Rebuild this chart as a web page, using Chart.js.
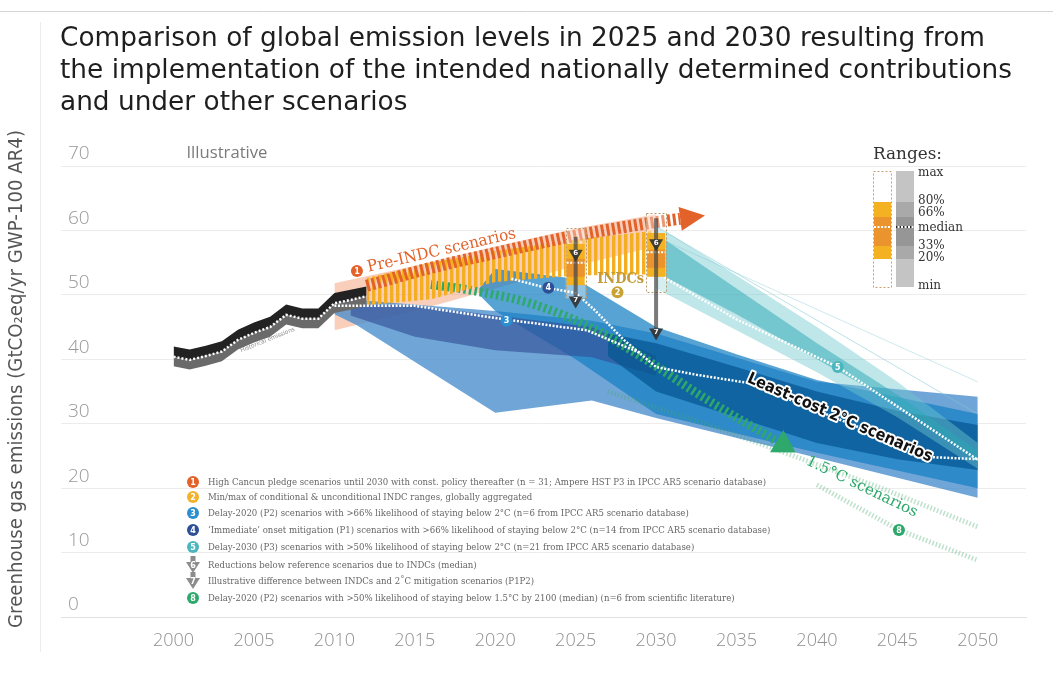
<!DOCTYPE html>
<html>
<head>
<meta charset="utf-8">
<title>Global emission levels in 2025 and 2030</title>
<script src="https://cdn.jsdelivr.net/npm/chart.js@4.4.1/dist/chart.umd.min.js"></script>
<style>
  html, body { margin: 0; padding: 0; background: #fff; overflow: hidden; }
  canvas { display: block; }
</style>
</head>
<body>
<canvas id="chart" width="1053" height="673"></canvas>
<script>
// AXES
const yearTicks = [2000, 2005, 2010, 2015, 2020, 2025, 2030, 2035, 2040, 2045, 2050];
const valueTicks = [0, 10, 20, 30, 40, 50, 60, 70];

// HISTORICAL EMISSIONS (GtCO2eq/yr)
const histYears = [2000, 2001, 2002, 2003, 2004, 2005, 2006, 2007, 2008, 2009, 2010, 2011, 2012];
const histValues = [40.4, 39.9, 40.5, 41.2, 43.0, 44.1, 45.0, 46.9, 46.3, 46.3, 48.7, 49.2, 49.8];
const histHigh = [42.0, 41.5, 42.1, 42.8, 44.6, 45.7, 46.6, 48.5, 47.9, 47.9, 50.3, 50.8, 51.3];
const histLow = [38.9, 38.4, 39.0, 39.7, 41.5, 42.6, 43.5, 45.4, 44.8, 44.8, 47.2, 47.7, 48.3];

// 1 PRE-INDC SCENARIOS
const preRangeYears = [2010, 2015, 2020, 2025, 2030];
const preRangeLow = [44.5, 47.5, 51.0, 54.5, 57.5];
const preRangeHigh = [51.8, 54.5, 57.5, 60.3, 62.5];
const preMedianYears = [2012, 2016, 2020, 2025, 2030, 2031.5];
const preMedianValues = [51.4, 54.2, 56.5, 59.2, 61.3, 61.8];

// 2 INDC RANGES
const indcSpreadYears = [2012, 2016, 2020, 2025, 2030];
const indcSpreadLow = [48.4, 49.3, 52.0, 53.0, 53.2];
const indcSpreadHigh = [52.6, 55.0, 56.8, 58.6, 60.0];
const indcYears = [2025, 2030];
const indcMin = [49.5, 50.4];
const indcP20 = [51.5, 52.8];
const indcP33 = [52.8, 54.2];
const indcMedian = [55.0, 56.6];
const indcP66 = [55.6, 57.0];
const indcP80 = [57.9, 59.6];
const indcMax = [60.4, 62.7];
const indcReference = [59.0, 61.9];   // 6: pre-INDC level above the INDC box
const indcGapTarget = [47.9, 42.9];   // 7: 2°C mitigation level below it

// 3 DELAY-2020 (P2), >66% BELOW 2°C
const p2Years = [2010, 2011.4, 2020, 2026, 2030, 2040, 2050];
const p2Low = [47.0, 45.3, 31.7, 33.6, 30.9, 24.7, 18.5];
const p2High = [49.2, 49.2, 47.5, 46.0, 44.0, 36.5, 34.2];
const p2CoreYears = [2011, 2015, 2020, 2026, 2030];
const p2CoreLow = [46.8, 43.5, 41.4, 40.3, 37.5];
const p2CoreHigh = [48.6, 48.3, 46.8, 45.0, 40.5];
const p2MedianYears = [2010, 2015, 2020, 2025.7, 2029];
const p2MedianValues = [48.3, 48.3, 46.4, 44.5, 41.0];

// 4 IMMEDIATE ONSET (P1), >66% BELOW 2°C
const p1Years = [2019, 2020, 2025, 2030, 2035, 2040, 2050];
const p1Low = [50.0, 47.5, 40.0, 31.5, 28.5, 25.5, 20.0];
const p1High = [51.0, 54.0, 52.5, 45.0, 40.8, 36.8, 31.5];
const coreYears = [2027, 2030, 2035, 2040, 2045, 2050];
const coreLow = [40.5, 35.0, 31.0, 27.0, 24.5, 22.8];
const coreHigh = [44.0, 42.5, 38.8, 35.0, 32.0, 29.8];
const p1MedianYears = [2021, 2023, 2025, 2026.2, 2028, 2030, 2032.5, 2035.8, 2047.2, 2050];
const p1MedianValues = [52.5, 51.2, 50.3, 47.6, 43.0, 38.8, 37.6, 36.3, 24.8, 24.5];

// 5 DELAY-2030 (P3), >50% BELOW 2°C
const p3Years = [2030, 2035, 2040, 2045, 2050];
const p3Low = [51.0, 44.5, 38.0, 31.0, 23.0];
const p3High = [60.8, 53.0, 45.0, 36.5, 27.0];
const p3CoreLow = [53.5, 47.0, 40.0, 33.0, 24.0];
const p3CoreHigh = [59.5, 51.0, 42.5, 34.5, 25.8];
const p3MedianYears = [2030.5, 2035, 2041.3, 2050];
const p3MedianValues = [52.7, 46.2, 38.8, 24.4];
const p3EdgeYears = [2030, 2050];
const p3EdgeA = [60.6, 31.5];
const p3EdgeB = [59.0, 36.5];

// 8 DELAY-2020 (P2), >50% BELOW 1.5°C
const p15Years = [2016, 2018.3, 2022.3, 2026.3, 2029.4, 2033, 2037.5];
const p15Values = [51.6, 50.8, 48.6, 44.5, 39.9, 34.0, 27.3];
const p15UpperYears = [2027, 2033, 2038, 2044, 2050];
const p15UpperValues = [35.0, 30.0, 25.5, 20.0, 14.0];
const p15LowerYears = [2040, 2045.1, 2050];
const p15LowerValues = [20.5, 13.5, 8.8];

// TEXTS
const titleLines = [
  'Comparison of global emission levels in 2025 and 2030 resulting from',
  'the implementation of the intended nationally determined contributions',
  'and under other scenarios'
];
const yTitle = 'Greenhouse gas emissions (GtCO\u2082eq/yr GWP-100 AR4)';
const legendItems = [
  { n: '1', color: '#e2622a', text: 'High Cancun pledge scenarios until 2030 with const. policy thereafter (n = 31; Ampere HST P3 in IPCC AR5 scenario database)' },
  { n: '2', color: '#f2b22b', text: 'Min/max of conditional & unconditional INDC ranges, globally aggregated' },
  { n: '3', color: '#2b8ed0', text: 'Delay-2020 (P2) scenarios with >66% likelihood of staying below 2°C (n=6 from IPCC AR5 scenario database)' },
  { n: '4', color: '#2c4f96', text: '\u2018Immediate\u2019 onset mitigation (P1) scenarios with >66% likelihood of staying below 2°C (n=14 from IPCC AR5 scenario database)' },
  { n: '5', color: '#4bb6bd', text: 'Delay-2030 (P3) scenarios with >50% likelihood of staying below 2°C (n=21 from IPCC AR5 scenario database)' },
  { n: '6', color: null, text: 'Reductions below reference scenarios due to INDCs (median)' },
  { n: '7', color: null, text: 'Illustrative difference between INDCs and 2\u02daC mitigation scenarios (P1P2)' },
  { n: '8', color: '#2ea86b', text: 'Delay-2020 (P2) scenarios with >50% likelihood of staying below 1.5°C by 2100 (median) (n=6 from scientific literature)' }
];

// marker and label anchors, in chart units
const markers = [
  { n: '1', x: 2011.4, y: 53.7, color: '#e2622a' },
  { n: '2', x: 2027.6, y: 50.4, color: '#c9a235' },
  { n: '3', x: 2020.7, y: 46.0, color: '#2b8ed0' },
  { n: '4', x: 2023.3, y: 51.1, color: '#2c4f96' },
  { n: '5', x: 2041.3, y: 38.8, color: '#4bb6bd' },
  { n: '8', x: 2045.1, y: 13.5, color: '#2ea86b' }
];

// HELPERS
function pairs(xs, ys) {
  return xs.map((x, i) => ({ x: x, y: ys[i] }));
}

function stripes(color, period, w) {
  const c = document.createElement('canvas');
  c.width = period;
  c.height = 4;
  const g = c.getContext('2d');
  g.fillStyle = color;
  g.fillRect(0, 0, w, 4);
  return g.createPattern(c, 'repeat');
}

const datasets = [];

function addBand(years, low, high, color) {
  datasets.push({ data: pairs(years, low), borderWidth: 0, borderColor: 'rgba(0,0,0,0)', fill: false });
  datasets.push({ data: pairs(years, high), borderWidth: 0, borderColor: 'rgba(0,0,0,0)', fill: '-1', backgroundColor: color });
}

function addLine(years, values, opts) {
  datasets.push(Object.assign({ data: pairs(years, values), fill: false }, opts));
}

// back to front
addBand(preRangeYears, preRangeLow, preRangeHigh, 'rgba(241,146,104,0.45)');
addBand(p2Years, p2Low, p2High, 'rgba(76,142,205,0.8)');
addBand(p1Years, p1Low, p1High, 'rgba(22,128,196,0.72)');
addBand(p2CoreYears, p2CoreLow, p2CoreHigh, 'rgba(52,78,150,0.62)');
addBand(coreYears, coreLow, coreHigh, 'rgba(4,86,146,0.72)');
addBand(p3Years, p3Low, p3High, 'rgba(112,200,206,0.45)');
addBand(p3Years, p3CoreLow, p3CoreHigh, 'rgba(44,168,182,0.5)');
addLine(p3EdgeYears, p3EdgeA, { borderColor: 'rgba(130,200,212,0.55)', borderWidth: 1 });
addLine(p3EdgeYears, p3EdgeB, { borderColor: 'rgba(130,200,212,0.4)', borderWidth: 1 });
addLine(p15UpperYears, p15UpperValues, { borderColor: 'rgba(70,170,110,0.35)', borderWidth: 5, borderDash: [1.5, 2] });
addLine(p15LowerYears, p15LowerValues, { borderColor: 'rgba(70,170,110,0.35)', borderWidth: 5, borderDash: [1.5, 2] });
addLine(p15Years, p15Values, { borderColor: '#2ea86b', borderWidth: 9, borderDash: [2.5, 3], cubicInterpolationMode: 'monotone' });
addBand(indcSpreadYears, indcSpreadLow, indcSpreadHigh, stripes('#f3ae22', 6, 3.4));
addLine(preMedianYears, preMedianValues, { borderColor: '#e2622a', borderWidth: 12, borderDash: [3, 2.6], cubicInterpolationMode: 'monotone' });
addBand(histYears, histLow, histValues, '#6a6a6a');
datasets.push({ data: pairs(histYears, histHigh), borderWidth: 0, borderColor: 'rgba(0,0,0,0)', fill: '-1', backgroundColor: '#222222' });
addLine(histYears, histValues, { borderColor: '#ffffff', borderWidth: 2.5, borderDash: [2, 2] });
addLine(p2MedianYears, p2MedianValues, { borderColor: '#ffffff', borderWidth: 2.5, borderDash: [2, 1.6] });
addLine(p1MedianYears, p1MedianValues, { borderColor: '#ffffff', borderWidth: 2.5, borderDash: [2, 1.6] });
addLine(p3MedianYears, p3MedianValues, { borderColor: '#ffffff', borderWidth: 2.5, borderDash: [2, 1.6] });

datasets.forEach((d, i) => {
  d.order = datasets.length - i;
  d.pointRadius = 0;
});

function drawText(c, text, x, y, o) {
  c.save();
  c.font = o.font;
  c.fillStyle = o.color || '#333';
  c.textAlign = o.align || 'left';
  c.textBaseline = o.baseline || 'middle';
  let sx = o.sx || 1;
  if (o.width) sx = o.width / c.measureText(text).width;
  c.translate(x, y);
  if (o.angle) c.rotate(o.angle * Math.PI / 180);
  c.scale(sx, 1);
  if (o.halo) {
    c.lineJoin = 'round';
    c.strokeStyle = o.halo;
    c.lineWidth = o.haloWidth || 4;
    c.strokeText(text, 0, 0);
  }
  c.fillText(text, 0, 0);
  c.restore();
}

function numCircle(c, x, y, r, color, n) {
  c.beginPath();
  c.arc(x, y, r, 0, Math.PI * 2);
  c.fillStyle = color;
  c.fill();
  drawText(c, n, x, y + 0.5, { font: 'bold ' + Math.round(r * 1.4) + "px 'DejaVu Sans'", color: '#fff', align: 'center' });
}

function numTri(c, x, tipY, n, color) {
  c.beginPath();
  c.moveTo(x - 7, tipY - 12);
  c.lineTo(x + 7, tipY - 12);
  c.lineTo(x, tipY);
  c.closePath();
  c.fillStyle = color || 'rgba(50,50,50,0.9)';
  c.fill();
  drawText(c, n, x, tipY - 8, { font: "bold 7px 'DejaVu Sans'", color: '#fff', align: 'center' });
}

function arrowHead(c, x0, y0, x1, y1, color, half, len) {
  const a = Math.atan2(y1 - y0, x1 - x0);
  c.save();
  c.translate(x1, y1);
  c.rotate(a);
  c.beginPath();
  c.moveTo(0, -half);
  c.lineTo(len, 0);
  c.lineTo(0, half);
  c.closePath();
  c.fillStyle = color;
  c.fill();
  c.restore();
}

const decor = {
  id: 'decor',
  beforeDraw(chart) {
    const c = chart.ctx;
    c.save();
    c.fillStyle = '#fff';
    c.fillRect(0, 0, chart.width, chart.height);
    c.lineWidth = 1;
    c.strokeStyle = '#d4d4d4';
    c.beginPath(); c.moveTo(0, 11.5); c.lineTo(chart.width, 11.5); c.stroke();
    c.strokeStyle = '#ececec';
    c.beginPath(); c.moveTo(40.5, 22); c.lineTo(40.5, 652); c.stroke();

    // title
    c.font = "26px 'DejaVu Sans'";
    const sx = 925 / c.measureText(titleLines[0]).width;
    titleLines.forEach((t, i) => {
      drawText(c, t, 60, 46 + i * 32, { font: "26px 'DejaVu Sans'", color: '#1e1e1e', baseline: 'alphabetic', sx: sx });
    });

    // y axis title
    drawText(c, yTitle, 17, 379, { font: "19px 'DejaVu Sans'", color: '#555', align: 'center', angle: -90, width: 498 });
    c.restore();
  },
  afterDatasetsDraw(chart) {
    const c = chart.ctx;
    const xs = chart.scales.x, ys = chart.scales.y;
    const X = v => xs.getPixelForValue(v);
    const Y = v => ys.getPixelForValue(v);
    c.save();

    // arrow heads of the hatched paths
    const pn = preMedianYears.length;
    arrowHead(c, X(preMedianYears[pn - 2]), Y(preMedianValues[pn - 2]), X(preMedianYears[pn - 1]), Y(preMedianValues[pn - 1]), '#e2622a', 12, 25);
    const gn = p15Years.length;
    arrowHead(c, X(p15Years[gn - 2]), Y(p15Values[gn - 2]), X(p15Years[gn - 1]), Y(p15Values[gn - 1]), '#2ea86b', 13, 22);

    // INDC range boxes
    indcYears.forEach((yr, i) => {
      const x = X(yr);
      const top = Y(indcMax[i]), bot = Y(indcMin[i]);
      c.fillStyle = 'rgba(255,255,255,0.35)';
      c.fillRect(x - 10, top, 20, bot - top);
      c.setLineDash([2, 2]);
      c.strokeStyle = '#b89a6e';
      c.lineWidth = 1;
      c.strokeRect(Math.round(x - 10) + 0.5, Math.round(top) + 0.5, 20, Math.round(bot - top));
      c.setLineDash([]);
      c.fillStyle = '#f4b223';
      c.fillRect(x - 9, Y(indcP80[i]), 18, Y(indcP20[i]) - Y(indcP80[i]));
      c.fillStyle = '#eb932c';
      c.fillRect(x - 9, Y(indcP66[i]), 18, Y(indcP33[i]) - Y(indcP66[i]));
      c.strokeStyle = '#fff';
      c.lineWidth = 2;
      c.setLineDash([2, 1.5]);
      c.beginPath(); c.moveTo(x - 9, Y(indcMedian[i])); c.lineTo(x + 9, Y(indcMedian[i])); c.stroke();
      c.setLineDash([]);
    });

    // 6 / 7 arrows
    indcYears.forEach((yr, i) => {
      const x = X(yr);
      c.strokeStyle = 'rgba(70,70,70,0.72)';
      c.lineWidth = 4;
      c.beginPath(); c.moveTo(x, Y(indcReference[i])); c.lineTo(x, Y(indcGapTarget[i]) - 8); c.stroke();
      numTri(c, x, Y(indcMedian[i]) - 1, '6');
      numTri(c, x, Y(indcGapTarget[i]), '7');
    });

    // numbered markers
    markers.forEach(m => numCircle(c, X(m.x), Y(m.y), 6, m.color, m.n));

    // labels on the chart
    drawText(c, 'Illustrative', X(2000.8), Y(71.9), { font: "16px 'Open Sans'", color: '#7a7a7a', width: 81 });
    drawText(c, 'Historical emissions', X(2005.85), Y(43.0), { font: "6px 'DejaVu Sans'", color: '#8a8a8a', align: 'center', angle: -22, width: 58 });
    drawText(c, 'Pre-INDC scenarios', X(2012.06), Y(54.2), { font: "16px 'DejaVu Serif'", color: '#e2622a', angle: -13, width: 152 });
    drawText(c, 'INDCs', X(2027.8), Y(52.5), { font: "bold 15px 'DejaVu Serif'", color: '#c49a38', align: 'center', width: 47 });
    drawText(c, 'Least-cost 2\u00b0C scenarios', X(2041.42), Y(30.9), { font: "bold 16px 'DejaVu Sans'", color: '#111', align: 'center', angle: 23.5, width: 200, halo: '#fff', haloWidth: 4 });
    drawText(c, '1.5\u00b0C scenarios', X(2042.79), Y(20.2), { font: "15px 'DejaVu Serif'", color: '#2ea86b', align: 'center', angle: 25.7, width: 122 });

    // legend
    c.font = "10px 'DejaVu Serif'";
    const lsx = 558 / c.measureText(legendItems[0].text).width;
    const legendY = [482, 497, 513, 530, 547, 565, 581, 598];
    legendItems.forEach((it, i) => {
      const y = legendY[i];
      if (it.color) {
        numCircle(c, 193, y, 6, it.color, it.n);
      } else {
        c.fillStyle = '#8c8c8c';
        c.fillRect(190.5, y - 9, 5, 6);
        c.beginPath();
        c.moveTo(186, y - 3); c.lineTo(200, y - 3); c.lineTo(193, y + 8); c.closePath();
        c.fill();
        drawText(c, it.n, 193, y + 0.5, { font: "bold 8px 'DejaVu Sans'", color: '#fff', align: 'center' });
      }
      drawText(c, it.text, 208, y, { font: "10px 'DejaVu Serif'", color: '#666', sx: lsx });
    });

    // ranges key
    drawText(c, 'Ranges:', 873, 155, { font: "16px 'DejaVu Serif'", color: '#333', width: 69 });
    c.setLineDash([2, 2]);
    c.strokeStyle = '#c9a06e';
    c.lineWidth = 1;
    c.strokeRect(873.5, 171.5, 18, 116);
    c.setLineDash([]);
    c.fillStyle = '#f4b223'; c.fillRect(874, 202, 17, 57);
    c.fillStyle = '#eb932c'; c.fillRect(874, 217, 17, 29);
    c.fillStyle = '#c4c4c4'; c.fillRect(896, 171, 18, 116);
    c.fillStyle = '#a9a9a9'; c.fillRect(896, 202, 18, 57);
    c.fillStyle = '#969696'; c.fillRect(896, 217, 18, 29);
    c.lineWidth = 2;
    c.setLineDash([2, 1.5]);
    c.strokeStyle = '#fff';
    c.beginPath(); c.moveTo(874, 227); c.lineTo(891, 227); c.stroke();
    c.strokeStyle = '#222';
    c.beginPath(); c.moveTo(896, 227); c.lineTo(914, 227); c.stroke();
    c.strokeStyle = '#fff';
    c.lineDashOffset = 2;
    c.beginPath(); c.moveTo(896, 227); c.lineTo(914, 227); c.stroke();
    c.setLineDash([]);
    const rangeLabels = [['max', 173], ['80%', 201], ['66%', 213], ['median', 228], ['33%', 246], ['20%', 258], ['min', 286]];
    rangeLabels.forEach(r => drawText(c, r[0], 918, r[1], { font: "12px 'DejaVu Serif'", color: '#333' }));

    c.restore();
  }
};

new Chart(document.getElementById('chart').getContext('2d'), {
  type: 'line',
  data: { datasets: datasets },
  options: {
    responsive: false,
    animation: false,
    layout: { padding: { left: 61, right: 27, top: 166, bottom: 0 } },
    plugins: {
      legend: { display: false },
      tooltip: { enabled: false },
      title: { display: false }
    },
    elements: { line: { borderCapStyle: 'butt' }, point: { radius: 0 } },
    scales: {
      x: {
        type: 'linear',
        min: 1993,
        max: 2053,
        afterBuildTicks: s => { s.ticks = yearTicks.map(v => ({ value: v })); },
        afterFit: s => { s.height = 56; },
        grid: { display: false },
        border: { display: true, color: '#e2e2e2' },
        ticks: {
          padding: 5,
          autoSkip: false,
          maxRotation: 0,
          color: '#8f8f8f',
          font: { family: "'Open Sans'", size: 18, weight: '300' },
          callback: v => String(v)
        }
      },
      y: {
        type: 'linear',
        min: 0,
        max: 70,
        afterBuildTicks: s => { s.ticks = valueTicks.map(v => ({ value: v })); },
        afterFit: s => { s.width = 0; },
        grid: { color: '#ececec', drawTicks: false },
        border: { display: false },
        ticks: {
          mirror: true,
          padding: 7,
          labelOffset: -12,
          color: '#999999',
          font: { family: "'Open Sans'", size: 19, weight: '300' },
          callback: v => String(v)
        }
      }
    }
  },
  plugins: [decor]
});
</script>
</body>
</html>
